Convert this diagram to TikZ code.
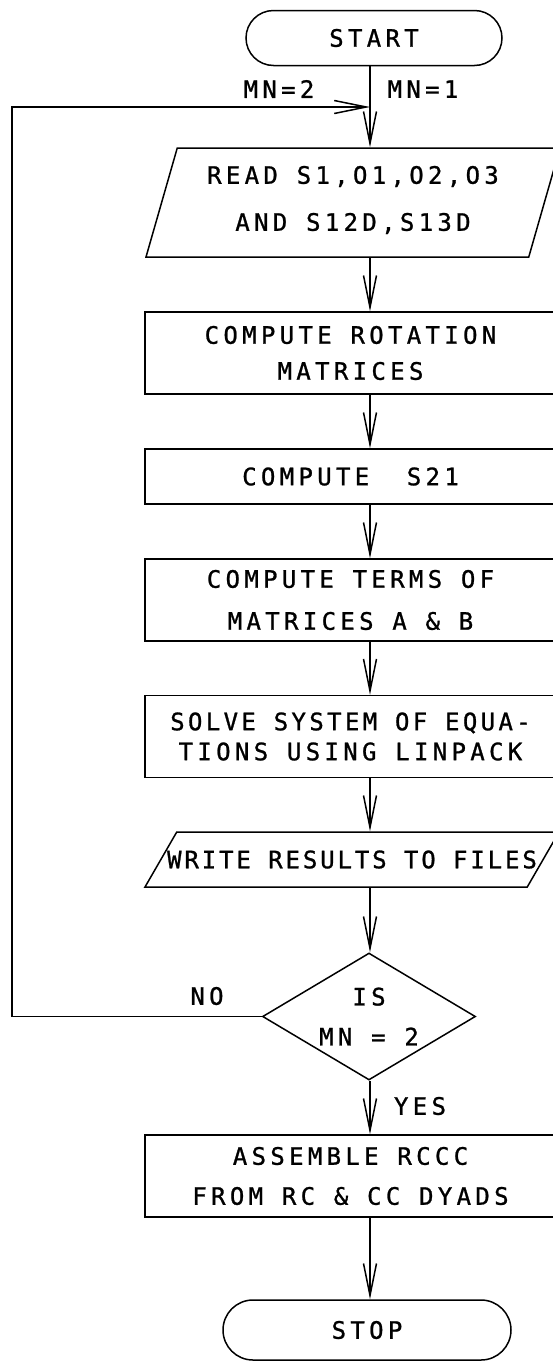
\documentclass[tikz,border=0pt]{standalone}
\usepackage{fontspec}
\usepackage{tikz}
\usetikzlibrary{arrows.meta, shapes.geometric, shapes.misc}
\newfontfamily\plotfont[LetterSpace=18,FakeBold=1]{DejaVu Sans Mono}

\begin{document}
\begin{tikzpicture}[x=1pt,y=-1pt,
    font=\plotfont\fontsize{24}{36}\selectfont,
    line width=1.5pt,
    >={Straight Barb[length=32pt,width=13pt]},
    procbox/.style={draw, rectangle, minimum width=411pt,
      minimum height=82pt, inner sep=0pt, align=center},
    iobox/.style={draw, trapezium, trapezium stretches body=true,
      minimum width=414pt, inner sep=0pt, align=center},
    termbox/.style={draw, rounded rectangle, inner sep=0pt, align=center},
    decision/.style={draw, diamond, aspect=1.68, inner sep=0pt,
      minimum width=213pt, minimum height=127pt, align=center},
    lbl/.style={inner sep=0pt}]
  \path[use as bounding box, clip] (0,0) rectangle (553,1363);

  % blocks of the flow chart
  \node[termbox, minimum width=256pt, minimum height=55pt] (start) at (374,38) {START};
  \node[iobox, trapezium left angle=74, trapezium right angle=106,
    text height=82.75pt, text depth=26.25pt] (read) at (353,202.5)
    {READ S1,O1,O2,O3\\[11pt]AND S12D,S13D};
  \node[procbox] (rot) at (350.5,353) {COMPUTE ROTATION\\MATRICES};
  \node[procbox, minimum height=55pt] (s21) at (350.5,476.5) {COMPUTE~~S21};
  \node[procbox] (terms) at (350.5,600) {COMPUTE TERMS OF\\[6pt]MATRICES A \& B};
  \node[procbox] (solve) at (350.5,736.5)
    {\addfontfeatures{LetterSpace=14}SOLVE SYSTEM OF EQUA-\\[-6pt]TIONS USING LINPACK};
  \node[iobox, trapezium left angle=60, trapezium right angle=120,
    text height=36.25pt, text depth=18.75pt] (write) at (352,859.5)
    {\makebox[350pt]{\addfontfeatures{LetterSpace=12}WRITE RESULTS TO FILES}};
  \node[decision] (test) at (369,1016.5) {IS\\[4pt]MN = 2};
  \node[procbox] (asm) at (350.5,1176) {ASSEMBLE RCCC\\[4pt]FROM RC \& CC DYADS};
  \node[termbox, minimum width=288pt, minimum height=60pt] (stop) at (367,1330) {STOP};

  % main column and loop back
  \coordinate (col) at (370,0);
  \coordinate (join) at (370,107);
  \coordinate (back) at (12,0);
  \draw[->] (start.south -| col) -- (read.north -| col);
  \draw[->] (read.south -| col) -- (rot.north -| col);
  \draw[->] (rot.south -| col) -- (s21.north -| col);
  \draw[->] (s21.south -| col) -- (terms.north -| col);
  \draw[->] (terms.south -| col) -- (solve.north -| col);
  \draw[->] (solve.south -| col) -- (write.north -| col);
  \draw[->] (write.south -| col) -- (test.north -| col);
  \draw[->] (test.south -| col) -- (asm.north -| col);
  \draw[->] (asm.south -| col) -- (stop.north -| col);
  \draw[->] (test.west) -- (test.west -| back) |- (join);

  % branch labels
  \node[lbl] (mn2) at (279,89) {MN=2};
  \node[lbl] (mn1) at (423,89) {MN=1};
  \node[lbl] (no) at (207,996) {NO};
  \node[lbl] (yes) at (420,1106) {YES};
\end{tikzpicture}
\end{document}
